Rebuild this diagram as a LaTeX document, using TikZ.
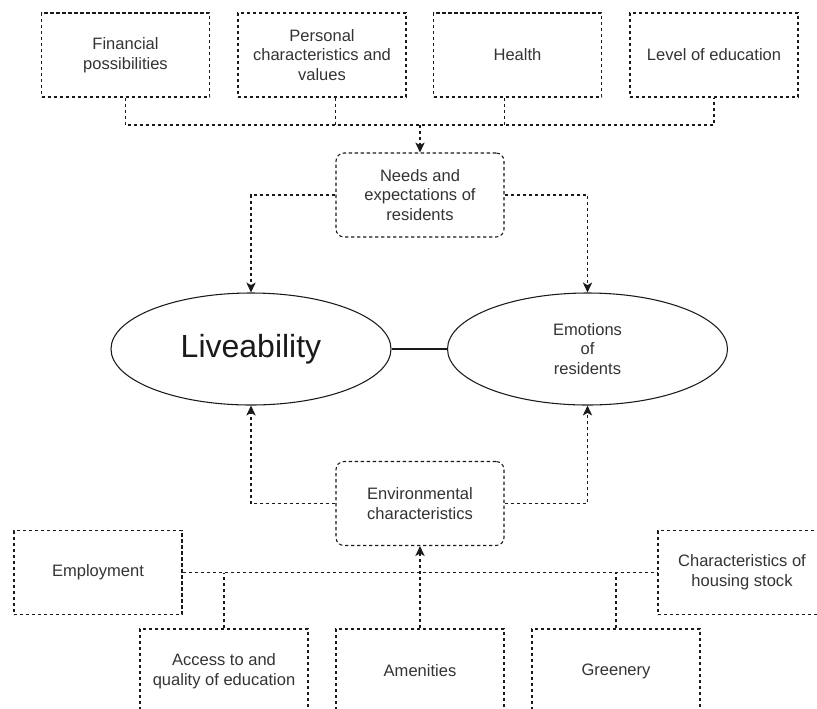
\documentclass[tikz,border=0pt]{standalone}
\usepackage{fontspec}
\setmainfont{Liberation Sans}
\usetikzlibrary{arrows.meta,shapes.geometric}
\definecolor{txt}{HTML}{333333}
\definecolor{ln}{HTML}{1A1A1A}
\begin{document}
\begin{tikzpicture}[x=0.75pt,y=-0.75pt,
  lbl/.style={font=\fontsize{12.4}{14.9}\selectfont, text=txt, align=center},
  dbox/.style={lbl, draw=ln, line width=0.8pt, dash pattern=on 2.5pt off 2pt,
    minimum width=126pt, minimum height=63pt, inner sep=0pt},
  rbox/.style={dbox, rounded corners=6pt},
  oval/.style={ellipse, draw=ln, line width=0.8pt, minimum width=210pt, minimum height=84pt, inner sep=0pt},
  dl/.style={draw=ln, line width=0.8pt, dash pattern=on 2.5pt off 2pt},
  arr/.style={dl, -{Stealth[length=7.5pt,width=7pt,inset=2pt]}}
]
\useasboundingbox (0,0) rectangle (817,708);
\clip (0,0) rectangle (817,708);
% top row
\node[dbox] (fin) at (125.5,55) {Financial\\possibilities};
\node[dbox] (pers) at (322,55) {Personal\\characteristics and\\values};
\node[dbox] (health) at (517.5,55) {Health};
\node[dbox] (level) at (714,55) {Level of education};
% middle
\node[rbox] (needs) at (420,195) {Needs and\\expectations of\\residents};
\node[oval] (live) at (251,349) {\fontsize{24}{28}\selectfont\color{ln}Liveability};
\node[oval, lbl] (emo) at (587.5,349) {\fontsize{12.4}{13.9}\selectfont Emotions\\of\\residents};
\node[rbox] (env) at (420,503.5) {Environmental\\characteristics};
% bottom
\node[dbox] (emp) at (98,572.5) {Employment};
\node[dbox] (house) at (742,572.5) {Characteristics of\\housing stock};
\node[dbox] (access) at (224,671) {Access to and\\quality of education};
\node[dbox] (amen) at (420,671) {Amenities};
\node[dbox] (green) at (616,671) {Greenery};
% top bus
\coordinate (bus1) at (420,125);
\draw[dl] (fin.south) |- (level.south |- bus1) -- (level.south);
\draw[dl] (needs.west |- pers.south) -- (needs.west |- bus1);
\draw[dl] (needs.east |- health.south) -- (needs.east |- bus1);
\draw[arr] (bus1) -- (needs.north);
% needs to ovals
\draw[arr] (needs.west) -| (live.north);
\draw[arr] (needs.east) -| (emo.north);
% link
\draw[draw=ln, line width=0.8pt] (live.east) -- (emo.west);
% env to ovals
\draw[arr] (env.west) -| (live.south);
\draw[arr] (env.east) -| (emo.south);
% bottom bus
\draw[dl] (emp.east) -- (house.west);
\draw[dl] (access.north) -- (access.north |- emp.east);
\draw[dl] (green.north) -- (green.north |- emp.east);
\draw[arr] (amen.north) -- (env.south);
\end{tikzpicture}
\end{document}
